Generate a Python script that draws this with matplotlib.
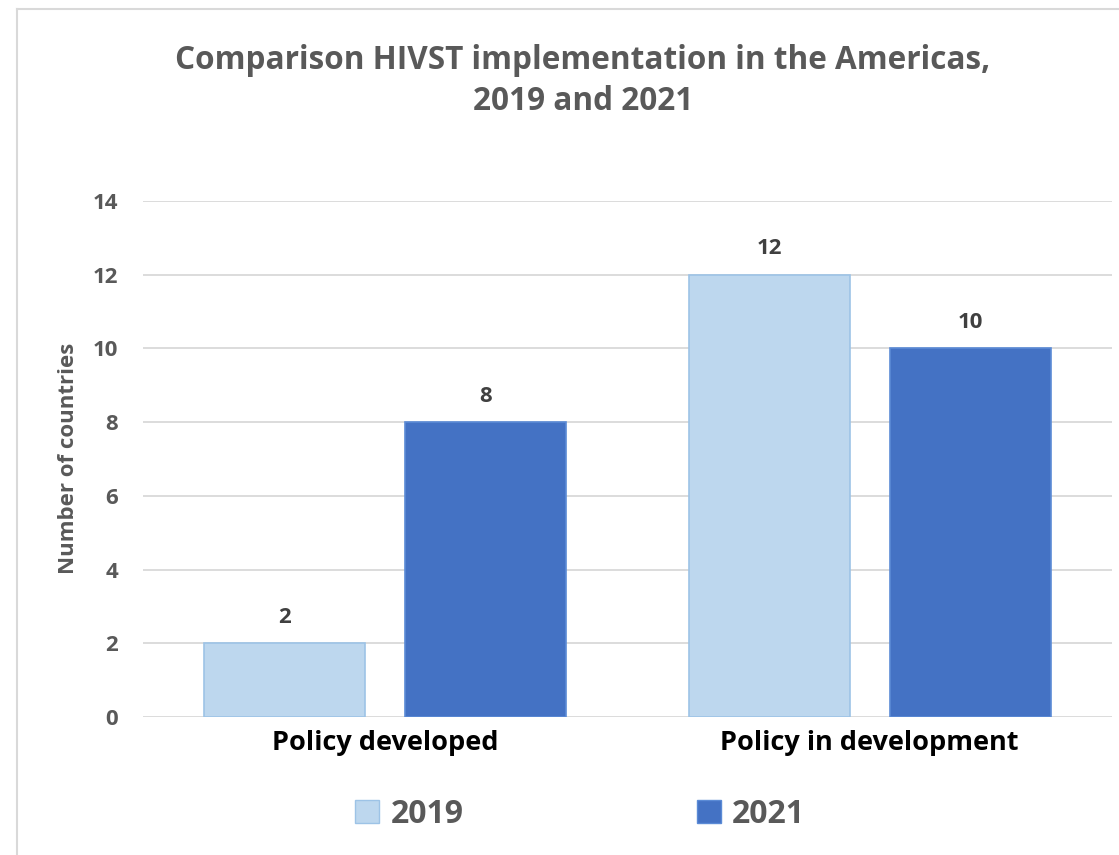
import matplotlib
matplotlib.use("Agg")
import matplotlib.pyplot as plt
import numpy as np
from matplotlib.lines import Line2D
from matplotlib.patches import Patch

plt.rcParams['font.family'] = ['Open Sans', 'DejaVu Sans']

categories = ["Policy developed", "Policy in development"]
years = ["2019", "2021"]
values_2019 = [2, 12]
values_2021 = [8, 10]
yticks = [0, 2, 4, 6, 8, 10, 12, 14]

title = "Comparison HIVST implementation in the Americas,\n2019 and 2021"

fill_2019 = "#BDD7EE"
edge_2019 = "#9DC3E6"
fill_2021 = "#4472C4"
edge_2021 = "#5B8BD6"
gray = "#595959"
dark = "#404040"

fig = plt.figure(figsize=(11.19, 8.55), dpi=100)
ax = fig.add_axes([143/1119, 1 - 717/855, (1112-143)/1119, (717-201)/855])

x = np.arange(len(categories))
w = 0.333
off = 0.2075
b1 = ax.bar(x - off, values_2019, w, color=fill_2019, edgecolor=edge_2019, linewidth=1.2, zorder=3, label=years[0])
b2 = ax.bar(x + off, values_2021, w, color=fill_2021, edgecolor=edge_2021, linewidth=1.2, zorder=3, label=years[1])

for bars in (b1, b2):
    for r in bars:
        ax.annotate(f"{r.get_height():g}", (r.get_x() + r.get_width()/2, r.get_height()),
                    xytext=(0, 11), textcoords="offset points", ha="center", va="bottom",
                    fontsize=16, fontweight="bold", color=dark)

ax.set_xlim(-0.5, 1.5)
ax.set_ylim(0, 14)
ax.set_yticks(yticks)
ax.set_yticklabels([str(t) for t in yticks], fontsize=16, fontweight="bold", color=gray)
ax.set_xticks(x)
ax.set_xticklabels(categories, fontsize=19.5, fontweight="bold", color="black")
ax.tick_params(axis="y", length=0, pad=18)
ax.tick_params(axis="x", length=0, pad=9)
ax.grid(axis="y", color="#D9D9D9", linewidth=1.3, zorder=0)
ax.set_axisbelow(True)
for s in ax.spines.values():
    s.set_visible(False)

fig.text(68/1119, 1 - 458/855, "Number of countries", rotation=90, ha="center", va="center",
         fontsize=16, fontweight="bold", color=gray)

fig.text(0.521, 1 - 81/855, title, ha="center", va="center", fontsize=22.7,
         fontweight="bold", color=gray, linespacing=1.3)

handles = [Patch(facecolor=fill_2019, edgecolor=edge_2019), Patch(facecolor=fill_2021, edgecolor=edge_2021)]
fig.legend(handles, years, loc="center", bbox_to_anchor=(580/1119, 1 - 814/855), ncol=2,
           frameon=False, prop={"size": 23, "weight": "bold"}, labelcolor=gray,
           handlelength=0.75, handleheight=0.75, handletextpad=0.35, columnspacing=7.3)

# outer chart frame (left and top edges visible)
fig.add_artist(Line2D([17/1119, 17/1119], [0, 1 - 9/855], color="#D9D9D9", linewidth=1.5))
fig.add_artist(Line2D([17/1119, 1], [1 - 9/855, 1 - 9/855], color="#D9D9D9", linewidth=1.5))

fig.savefig("out.png", dpi=100)
